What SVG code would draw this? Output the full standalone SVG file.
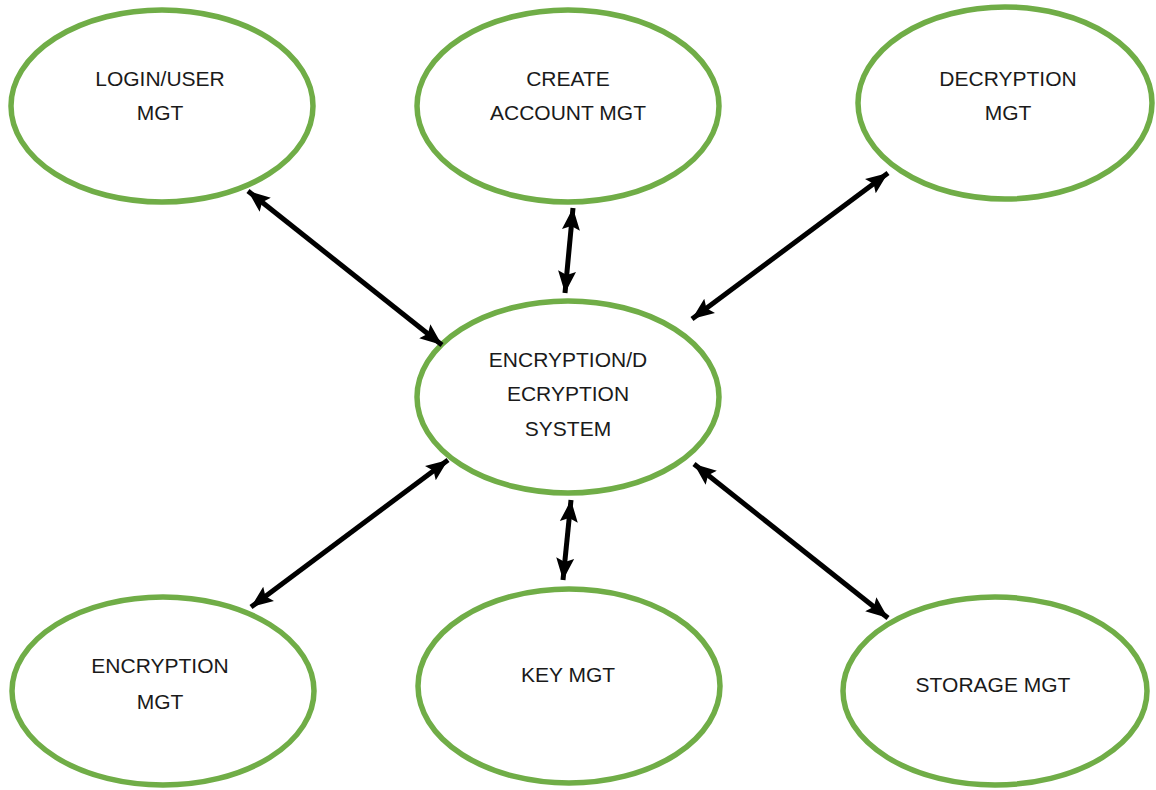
<svg xmlns="http://www.w3.org/2000/svg" width="1156" height="790" viewBox="0 0 1156 790">
<style>
.node ellipse{fill:#fff;stroke:#70ad47;stroke-width:5.5}
.node text{font-family:"Liberation Sans",Arial,sans-serif;font-size:21px;fill:#1a1a1a;text-anchor:middle}
.conn line{stroke:#000;stroke-width:5;marker-start:url(#ah);marker-end:url(#ah)}
</style>
<defs>
<marker id="ah" markerUnits="userSpaceOnUse" markerWidth="22" markerHeight="20" refX="22" refY="10" orient="auto-start-reverse" viewBox="0 0 22 20">
<path d="M0,1 L22,10 L0,19 L4,10 Z" fill="#000"/>
</marker>
</defs>
<rect width="1156" height="790" fill="#fff"/>
<g id="login" class="node"><ellipse cx="162" cy="106" rx="151" ry="96"/><text x="160" y="86">LOGIN/USER</text><text x="160" y="120">MGT</text></g>
<g id="create" class="node"><ellipse cx="568" cy="106" rx="151" ry="96"/><text x="568" y="86">CREATE</text><text x="568" y="120">ACCOUNT MGT</text></g>
<g id="decryption" class="node"><ellipse cx="1005" cy="103" rx="147" ry="96"/><text x="1008" y="86">DECRYPTION</text><text x="1008" y="120">MGT</text></g>
<g id="center" class="node"><ellipse cx="568" cy="397" rx="151" ry="96"/><text x="568" y="367">ENCRYPTION/D</text><text x="568" y="401">ECRYPTION</text><text x="568" y="436">SYSTEM</text></g>
<g id="encryption" class="node"><ellipse cx="163" cy="691" rx="151" ry="94"/><text x="160" y="673">ENCRYPTION</text><text x="160" y="709">MGT</text></g>
<g id="key" class="node"><ellipse cx="569" cy="686" rx="151" ry="97"/><text x="568" y="682">KEY MGT</text></g>
<g id="storage" class="node"><ellipse cx="995" cy="691" rx="152" ry="94"/><text x="993" y="692">STORAGE MGT</text></g>
<g id="connectors" class="conn">
<line x1="248" y1="191" x2="442" y2="345"/>
<line x1="573" y1="208" x2="565" y2="293"/>
<line x1="888" y1="173" x2="692" y2="319"/>
<line x1="448" y1="460" x2="251" y2="607"/>
<line x1="571" y1="500" x2="563" y2="580"/>
<line x1="694" y1="464" x2="888" y2="618"/>
</g>
</svg>
